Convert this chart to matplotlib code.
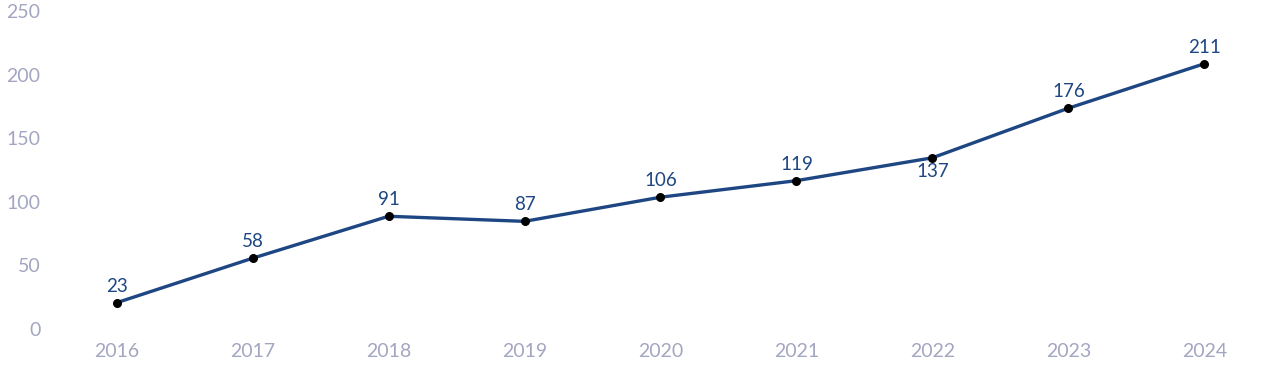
import matplotlib
matplotlib.use("Agg")
import matplotlib.pyplot as plt
import matplotlib.transforms as mtransforms

years = ["2016", "2017", "2018", "2019", "2020", "2021", "2022", "2023", "2024"]
values = [23, 58, 91, 87, 106, 119, 137, 176, 211]
yticks = [0, 50, 100, 150, 200, 250]

plt.rcParams["font.family"] = ["Lato", "DejaVu Sans"]

line_col = "#1d4683"
tick_col = "#a3a6c0"

fig = plt.figure(figsize=(12.8, 3.82), dpi=100)
ax = fig.add_axes([0.038, 0.131, 0.956, 0.832])

x = list(range(len(years)))
ax.plot(x, values, color=line_col, lw=2.4, zorder=2)
ax.scatter(x, values, s=30, color="black", zorder=3)

for i, v in enumerate(values):
    # 2022 label sits under its point
    dy = -10 if years[i] == "2022" else 12
    ax.annotate(str(v), (i, v), xytext=(0, dy), textcoords="offset points",
                ha="center", va="center", fontsize=13.5, color=line_col)

ax.set_xlim(-0.5, len(years) - 0.5)
ax.set_ylim(0, 250)
ax.set_xticks(x)
ax.set_xticklabels(years)
ax.set_yticks(yticks)
ax.tick_params(axis="both", length=0, labelsize=14, labelcolor=tick_col)
ax.tick_params(axis="y", pad=6)
ax.tick_params(axis="x", pad=8)

# nudge y tick labels up a bit like the reference
off = mtransforms.ScaledTranslation(0, 3 / 100, fig.dpi_scale_trans)
for lab in ax.get_yticklabels():
    lab.set_transform(lab.get_transform() + off)

for s in ax.spines.values():
    s.set_visible(False)

fig.savefig("out.png", dpi=100)
